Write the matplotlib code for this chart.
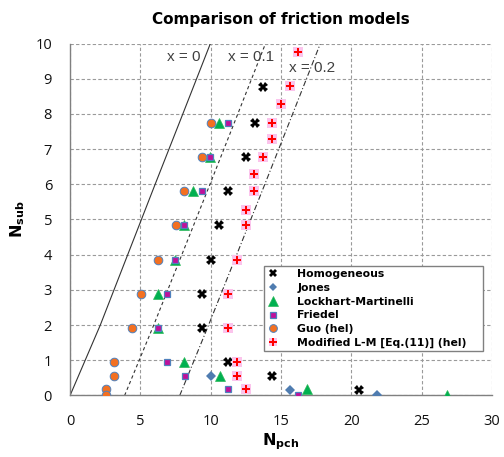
import numpy as np
import matplotlib.pyplot as plt

# N_pch (x) and N_sub (y) values
homo_x = [13.7, 13.15, 12.5, 11.25, 10.6, 10.0, 9.4, 9.4, 11.25, 14.33, 20.56]
homo_y = [8.77, 7.74, 6.78, 5.80, 4.83, 3.86, 2.89, 1.91, 0.96, 0.56, 0.17]

jones_x = [10.0, 15.64, 21.82]
jones_y = [0.55, 0.17, 0.0]

lm_x = [10.6, 9.97, 8.72, 8.10, 7.46, 6.23, 6.25, 8.13, 10.64, 16.87, 26.8]
lm_y = [7.74, 6.78, 5.80, 4.83, 3.86, 2.89, 1.91, 0.96, 0.56, 0.18, 0.0]

friedel_x = [11.25, 9.97, 9.38, 8.10, 7.46, 6.92, 6.25, 6.92, 8.15, 11.25, 16.23]
friedel_y = [7.74, 6.78, 5.80, 4.83, 3.86, 2.89, 1.91, 0.95, 0.55, 0.18, 0.0]

guo_x = [10.0, 9.38, 8.12, 7.51, 6.28, 5.02, 4.41, 3.15, 3.15, 2.53, 2.53]
guo_y = [7.74, 6.78, 5.80, 4.83, 3.86, 2.89, 1.91, 0.95, 0.55, 0.18, 0.0]

mlm_x = [16.23, 15.61, 14.99, 14.38, 14.38, 13.74, 13.1, 13.1, 12.49, 12.49,
         11.87, 11.25, 11.25, 11.87, 11.87, 12.49]
mlm_y = [9.75, 8.79, 8.29, 7.74, 7.30, 6.78, 6.28, 5.80, 5.28, 4.83,
         3.86, 2.89, 1.91, 0.96, 0.56, 0.18]

# quality lines x = 0, 0.1, 0.2
line_y = [0, 2, 4, 6, 8, 10]
x0_x = [0, 2.15, 4.1, 6.05, 8.02, 9.98]
x01_x = [3.88, 5.95, 7.95, 9.95, 11.93, 13.9]
x02_x = [7.8, 9.85, 11.85, 13.85, 15.83, 17.8]

fig = plt.figure(figsize=(5.04, 4.57), dpi=100)
ax = fig.add_axes([0.139, 0.1346, 0.837, 0.7702])

ax.plot(x0_x, line_y, '-', color='#333333', lw=0.8, zorder=2)
ax.plot(x01_x, line_y, '--', color='#333333', lw=0.8, dashes=(3, 2.5), zorder=2)
ax.plot(x02_x, line_y, '-.', color='#333333', lw=0.8, dashes=(5, 2, 1, 2), zorder=2)

ax.text(9.25, 9.63, 'x = 0', ha='right', va='center', fontsize=11,
        color='#404040', family='Liberation Sans')
ax.text(11.2, 9.63, 'x = 0.1', ha='left', va='center', fontsize=11,
        color='#404040', family='Liberation Sans')
ax.text(15.6, 9.29, 'x = 0.2', ha='left', va='center', fontsize=11,
        color='#404040', family='Liberation Sans')

blue_edge = '#4F81BD'
h1, = ax.plot(homo_x, homo_y, 'X', ls='none', color='black', ms=6.5, mew=0, zorder=4)
h2, = ax.plot(jones_x, jones_y, 'D', ls='none', color='#4F7CB0', ms=5, mew=0, zorder=4)
h3, = ax.plot(lm_x, lm_y, '^', ls='none', color='#00B050', ms=7.5, mec='#2DB85A', mew=0.5, zorder=4)
h4, = ax.plot(friedel_x, friedel_y, 's', ls='none', color='#C0109A', ms=5, mec=blue_edge, mew=0.9, zorder=5)
h5, = ax.plot(guo_x, guo_y, 'o', ls='none', color='#F37021', ms=6.2, mec=blue_edge, mew=0.7, zorder=5)
h6a, = ax.plot(mlm_x, mlm_y, 's', ls='none', color='#FBC4EC', ms=6.5, mew=0, zorder=5)
h6b, = ax.plot(mlm_x, mlm_y, 'P', ls='none', color='#FF0000', ms=6, mew=0, zorder=6)

ax.set_xlim(0, 30)
ax.set_ylim(0, 10)
ax.set_xticks(np.arange(0, 31, 5))
ax.set_yticks(np.arange(0, 11, 1))
ax.grid(True, ls='--', color='#9a9a9a', lw=0.8, dashes=(3, 2))
ax.set_axisbelow(True)
for s in ['top', 'right']:
    ax.spines[s].set_visible(False)
for s in ['left', 'bottom']:
    ax.spines[s].set_color('#808080')
    ax.spines[s].set_linewidth(1)
ax.tick_params(length=0, labelsize=10.5, colors='#111111')
ax.tick_params(axis='x', pad=13)
ax.tick_params(axis='y', pad=13)
for lab in ax.get_xticklabels() + ax.get_yticklabels():
    lab.set_family('Open Sans')

ax.set_xlabel(r'$\mathbf{N_{pch}}$', fontsize=11.5, labelpad=2)
ax.set_ylabel(r'$\mathbf{N_{sub}}$', fontsize=11.5, labelpad=6)
ax.set_title('Comparison of friction models', fontsize=11, fontweight='bold', pad=14)

leg = ax.legend([h1, h2, h3, h4, h5, (h6a, h6b)],
                ['Homogeneous', 'Jones', 'Lockhart-Martinelli', 'Friedel',
                 'Guo (hel)', 'Modified L-M [Eq.(11)] (hel)'],
                loc='lower left', bbox_to_anchor=(0.459, 0.125, 0.52, 0.255),
                mode='expand', fancybox=False, framealpha=1, edgecolor='#808080',
                prop={'weight': 'bold', 'size': 7.8}, handlelength=1.2,
                handletextpad=1.6, borderpad=0.3, labelspacing=0.35,
                markerscale=0.9, borderaxespad=0)
leg.get_frame().set_linewidth(1)
leg.set_zorder(10)

fig.savefig('out.png', dpi=100)
